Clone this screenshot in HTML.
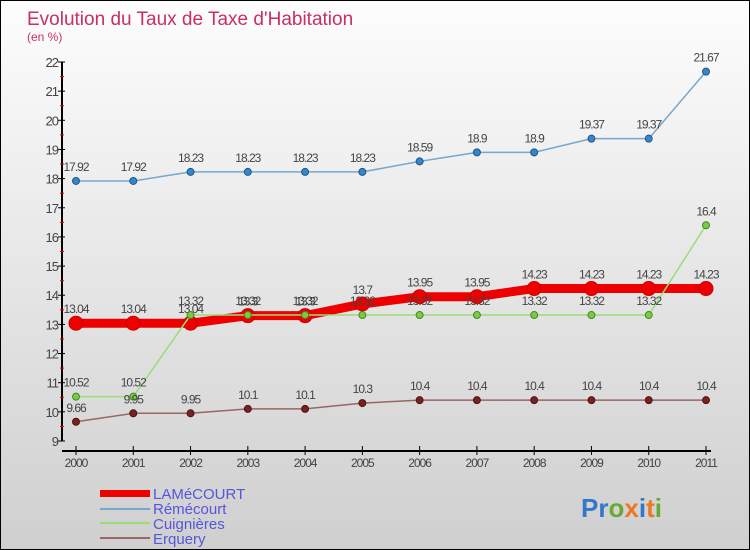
<!DOCTYPE html>
<html><head><meta charset="utf-8"><style>
body{margin:0}
#c{width:748px;height:548px;border:1px solid #000;background:linear-gradient(#fdfdfd,#cfcfcf);position:relative;font-family:"Liberation Sans",sans-serif;overflow:hidden}
</style></head><body>
<div id="c">
<svg id="s" width="748" height="548" style="position:absolute;left:0;top:0">
<text x="26" y="24" font-size="19" fill="#c8305f">Evolution du Taux de Taxe d'Habitation</text>
<text x="26" y="40" font-size="12" fill="#c8305f">(en %)</text>
<g id="axes"></g><g id="plot"></g>
<g font-size="15" fill="#5555dd">
<rect x="99" y="489" width="50" height="7" fill="#ee0000"/>
<text x="152" y="498">LAMéCOURT</text>
<rect x="99" y="507" width="50" height="2" fill="#77a7cc"/>
<text x="152" y="513">Rémécourt</text>
<rect x="99" y="521" width="50" height="2" fill="#99dd77"/>
<text x="152" y="528">Cuignières</text>
<rect x="99" y="536" width="50" height="2" fill="#996666"/>
<text x="152" y="543">Erquery</text>
</g>
<text x="580" y="516" font-size="26" font-weight="bold"><tspan fill="#3377cc">Pr</tspan><tspan fill="#66aa33">o</tspan><tspan fill="#ee7722">x</tspan><tspan fill="#3377cc">i</tspan><tspan fill="#ee7722">t</tspan><tspan fill="#66aa33">i</tspan></text>
</svg>
</div>
<script>
const years=["2000","2001","2002","2003","2004","2005","2006","2007","2008","2009","2010","2011"];
const yTicks=[9,10,11,12,13,14,15,16,17,18,19,20,21,22];
const lamecourt=[13.04,13.04,13.04,13.3,13.3,13.7,13.95,13.95,14.23,14.23,14.23,14.23];
const remecourt=[17.92,17.92,18.23,18.23,18.23,18.23,18.59,18.9,18.9,19.37,19.37,21.67];
const cuignieres=[10.52,10.52,13.32,13.32,13.32,13.32,13.32,13.32,13.32,13.32,13.32,16.4];
const erquery=[9.66,9.95,9.95,10.1,10.1,10.3,10.4,10.4,10.4,10.4,10.4,10.4];
const NS="http://www.w3.org/2000/svg";
const X=i=>75+i*(630/11);
const Y=v=>61+(22-v)*(379/13);
function mk(t,a,p){const e=document.createElementNS(NS,t);for(const k in a)e.setAttribute(k,a[k]);p.appendChild(e);return e;}
const ax=document.getElementById('axes'),pl=document.getElementById('plot');
const ya=mk('line',{x1:61,y1:61,x2:61,y2:440,stroke:'#000','stroke-width':2},ax);


yTicks.forEach(v=>{
 mk('line',{x1:57,y1:Y(v),x2:64,y2:Y(v),stroke:'#000'},ax);
 if(v<22) mk('line',{x1:59,y1:Y(v+0.5),x2:63,y2:Y(v+0.5),stroke:'#e00'},ax);
 const t=mk('text',{x:57,y:Y(v)+5,'font-size':13,fill:'#444','text-anchor':'end','letter-spacing':'-1'},ax);t.textContent=v;
 
 
});
const xa=mk('line',{x1:61,y1:450,x2:710,y2:450,stroke:'#000','stroke-width':2},ax);


years.forEach((y,i)=>{
 mk('line',{x1:X(i),y1:445,x2:X(i),y2:454,stroke:'#000'},ax);
 const t=mk('text',{x:X(i),y:466,'font-size':12,fill:'#444','text-anchor':'middle','letter-spacing':'-1'},ax);t.textContent=y;
 
 
});
function series(d,name,col,w,r,dot,dotStroke){
 const g=mk('g',{},pl);
 
 
 mk('polyline',{points:d.map((v,i)=>X(i)+','+Y(v)).join(' '),fill:'none',stroke:col,'stroke-width':w},g);
 d.forEach((v,i)=>{
  const c=mk('circle',{cx:X(i),cy:Y(v),r:r,fill:dot,stroke:dotStroke,'stroke-width':1},g);
  
  
  const t=mk('text',{x:X(i),y:Y(v)-10,'font-size':12,fill:'#444','text-anchor':'middle','letter-spacing':'-1'},g);t.textContent=v;
  
  
 });
}
series(lamecourt,'lamecourt','#ee0000',9,7,'#ee0000','#cc0000');
series(remecourt,'remecourt','#77a7cc',1.5,3.5,'#3388cc','#225588');
series(cuignieres,'cuignieres','#99dd77',1.5,3.5,'#77cc44','#448822');
series(erquery,'erquery','#996666',1.5,3.5,'#772222','#551111');
</script>
</body></html>
